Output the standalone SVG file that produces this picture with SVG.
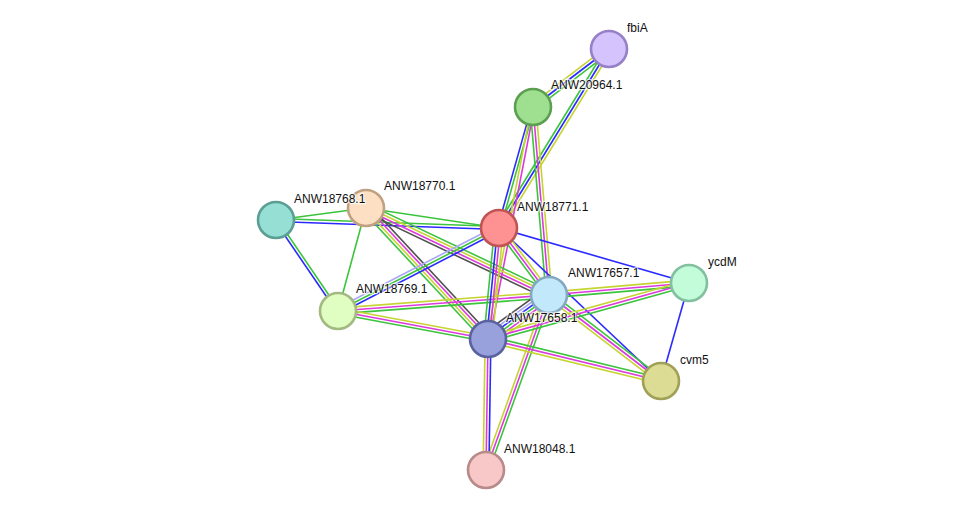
<svg xmlns="http://www.w3.org/2000/svg" width="975" height="516" viewBox="0 0 975 516">
<style>
line{stroke-width:1.6;fill:none}
.g{stroke:#3cc43c}.b{stroke:#2a2aff}.m{stroke:#dc3adc}.y{stroke:#c6d431}.k{stroke:#505050}.l{stroke:#a8a8f6}
circle{stroke-width:2.6}
text{font-family:"Liberation Sans",Arial,sans-serif;font-size:12px;fill:#111;stroke:#fff;stroke-width:2.5;stroke-opacity:0.7;paint-order:stroke}
</style>
<rect width="975" height="516" fill="#fff"/>
<g id="edges">
<line class="y" x1="607.25" y1="46.71" x2="531.25" y2="104.71"/>
<line class="b" x1="609" y1="49" x2="533" y2="107"/>
<line class="g" x1="610.75" y1="51.29" x2="534.75" y2="109.29"/>
<line class="g" x1="606.55" y1="47.49" x2="496.55" y2="226.49"/>
<line class="b" x1="609" y1="49" x2="499" y2="228"/>
<line class="y" x1="611.45" y1="50.51" x2="501.45" y2="229.51"/>
<line class="b" x1="531.61" y1="106.62" x2="497.61" y2="227.62"/>
<line class="g" x1="534.39" y1="107.38" x2="500.39" y2="228.38"/>
<line class="g" x1="530.13" y1="107.24" x2="546.13" y2="295.24"/>
<line class="m" x1="533" y1="107" x2="549" y2="295"/>
<line class="y" x1="535.87" y1="106.76" x2="551.87" y2="294.76"/>
<line class="y" x1="531.58" y1="106.72" x2="486.58" y2="338.72"/>
<line class="m" x1="534.42" y1="107.28" x2="489.42" y2="339.28"/>
<line class="g" x1="276" y1="220" x2="366" y2="208"/>
<line class="g" x1="276.05" y1="218.56" x2="499.05" y2="226.56"/>
<line class="b" x1="275.95" y1="221.44" x2="498.95" y2="229.44"/>
<line class="b" x1="274.81" y1="220.82" x2="336.81" y2="311.82"/>
<line class="g" x1="277.19" y1="219.18" x2="339.19" y2="310.18"/>
<line class="g" x1="366" y1="208" x2="499" y2="228"/>
<line class="g" x1="366" y1="208" x2="338" y2="311"/>
<line class="g" x1="367.85" y1="204.1" x2="550.85" y2="291.1"/>
<line class="y" x1="366.62" y1="206.7" x2="549.62" y2="293.7"/>
<line class="m" x1="365.38" y1="209.3" x2="548.38" y2="296.3"/>
<line class="k" x1="364.15" y1="211.9" x2="547.15" y2="298.9"/>
<line class="g" x1="362.84" y1="210.95" x2="484.84" y2="341.95"/>
<line class="y" x1="364.95" y1="208.98" x2="486.95" y2="339.98"/>
<line class="m" x1="367.05" y1="207.02" x2="489.05" y2="338.02"/>
<line class="k" x1="369.16" y1="205.05" x2="491.16" y2="336.05"/>
<line class="l" x1="336.68" y1="308.44" x2="497.68" y2="225.44"/>
<line class="g" x1="338" y1="311" x2="499" y2="228"/>
<line class="b" x1="339.32" y1="313.56" x2="500.32" y2="230.56"/>
<line class="y" x1="337.78" y1="308.13" x2="548.78" y2="292.13"/>
<line class="m" x1="338" y1="311" x2="549" y2="295"/>
<line class="g" x1="338.22" y1="313.87" x2="549.22" y2="297.87"/>
<line class="y" x1="338.53" y1="308.17" x2="488.53" y2="336.17"/>
<line class="m" x1="338" y1="311" x2="488" y2="339"/>
<line class="g" x1="337.47" y1="313.83" x2="487.47" y2="341.83"/>
<line class="b" x1="499" y1="228" x2="689" y2="283"/>
<line class="b" x1="499" y1="228" x2="661" y2="381"/>
<line class="g" x1="496.7" y1="229.73" x2="546.7" y2="296.73"/>
<line class="m" x1="499" y1="228" x2="549" y2="295"/>
<line class="y" x1="501.3" y1="226.27" x2="551.3" y2="293.27"/>
<line class="g" x1="494.7" y1="227.57" x2="483.7" y2="338.57"/>
<line class="b" x1="497.57" y1="227.86" x2="486.57" y2="338.86"/>
<line class="m" x1="500.43" y1="228.14" x2="489.43" y2="339.14"/>
<line class="y" x1="503.3" y1="228.43" x2="492.3" y2="339.43"/>
<line class="y" x1="548.76" y1="292.13" x2="688.76" y2="280.13"/>
<line class="m" x1="549" y1="295" x2="689" y2="283"/>
<line class="g" x1="549.24" y1="297.87" x2="689.24" y2="285.87"/>
<line class="g" x1="550.75" y1="292.72" x2="662.75" y2="378.72"/>
<line class="m" x1="549" y1="295" x2="661" y2="381"/>
<line class="y" x1="547.25" y1="297.28" x2="659.25" y2="383.28"/>
<line class="k" x1="544.79" y1="289.16" x2="483.79" y2="333.16"/>
<line class="l" x1="546.47" y1="291.5" x2="485.47" y2="335.5"/>
<line class="b" x1="548.16" y1="293.83" x2="487.16" y2="337.83"/>
<line class="g" x1="549.84" y1="296.17" x2="488.84" y2="340.17"/>
<line class="m" x1="551.53" y1="298.5" x2="490.53" y2="342.5"/>
<line class="y" x1="553.21" y1="300.84" x2="492.21" y2="344.84"/>
<line class="y" x1="546.29" y1="294.03" x2="483.29" y2="469.03"/>
<line class="m" x1="549" y1="295" x2="486" y2="470"/>
<line class="g" x1="551.71" y1="295.97" x2="488.71" y2="470.97"/>
<line class="y" x1="487.23" y1="336.23" x2="688.23" y2="280.23"/>
<line class="m" x1="488" y1="339" x2="689" y2="283"/>
<line class="g" x1="488.77" y1="341.77" x2="689.77" y2="285.77"/>
<line class="g" x1="488.68" y1="336.2" x2="661.68" y2="378.2"/>
<line class="m" x1="488" y1="339" x2="661" y2="381"/>
<line class="y" x1="487.32" y1="341.8" x2="660.32" y2="383.8"/>
<line class="y" x1="485.12" y1="338.95" x2="483.12" y2="469.95"/>
<line class="m" x1="488" y1="339" x2="486" y2="470"/>
<line class="b" x1="490.88" y1="339.05" x2="488.88" y2="470.05"/>
<line class="b" x1="689" y1="283" x2="661" y2="381"/>
</g>
<g id="fbiA"><circle cx="609" cy="49" r="18" fill="#d5c3fe" stroke="#9680c6"/><text x="627" y="32">fbiA</text></g>
<g id="ANW20964.1"><circle cx="533" cy="107" r="18" fill="#9fe090" stroke="#5c9e52"/><text x="551" y="89">ANW20964.1</text></g>
<g id="ANW18771.1"><circle cx="499" cy="228" r="18" fill="#fe9292" stroke="#c05454"/><text x="517" y="211">ANW18771.1</text></g>
<g id="ANW18770.1"><circle cx="366" cy="208" r="18" fill="#fde0c4" stroke="#c0a282"/><text x="384" y="190">ANW18770.1</text></g>
<g id="ANW18768.1"><circle cx="276" cy="220" r="18" fill="#96dfd4" stroke="#5a9e94"/><text x="294" y="203">ANW18768.1</text></g>
<g id="ANW18769.1"><circle cx="338" cy="311" r="18" fill="#e0fdc2" stroke="#a2ba82"/><text x="356" y="293">ANW18769.1</text></g>
<g id="ANW17657.1"><circle cx="549" cy="295" r="18" fill="#c2e8fc" stroke="#84a8c0"/><text x="568" y="277">ANW17657.1</text></g>
<g id="ycdM"><circle cx="689" cy="283" r="18" fill="#c2fcd8" stroke="#82c0a0"/><text x="708" y="266">ycdM</text></g>
<g id="ANW17658.1"><circle cx="488" cy="339" r="18" fill="#98a1dc" stroke="#5a62a0"/><text x="506" y="322">ANW17658.1</text></g>
<g id="cvm5"><circle cx="661" cy="381" r="18" fill="#dddc94" stroke="#a0a058"/><text x="680" y="364">cvm5</text></g>
<g id="ANW18048.1"><circle cx="486" cy="470" r="18" fill="#f8c7c7" stroke="#b88a8a"/><text x="504" y="453">ANW18048.1</text></g>
</svg>
